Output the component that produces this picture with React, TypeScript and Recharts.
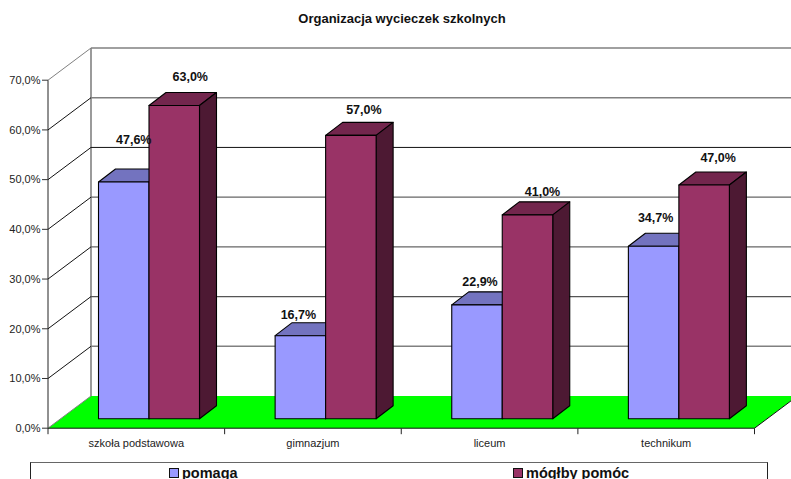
import { BarChart, Bar, XAxis, YAxis, CartesianGrid, LabelList, Legend } from "recharts";

const categories = ["szkoła podstawowa", "gimnazjum", "liceum", "technikum"];
const pomaga = [47.6, 16.7, 22.9, 34.7];
const mogłbyPomoc = [63.0, 57.0, 41.0, 47.0];
const yTicks = [0, 10, 20, 30, 40, 50, 60, 70];
const Y_MAX = 70;

const data = categories.map((name, i) => ({
  name,
  pomaga: pomaga[i],
  pomoc: mogłbyPomoc[i],
}));

// layout: the plot area is the plane of the bar fronts
const FONT = "'Liberation Sans', Arial, sans-serif";
const PLOT_LEFT = 60.5;
const PLOT_TOP = 70.7;
const PLOT_BOTTOM = 418.7;
const PLOT_RIGHT = 767;
const PLOT_H = PLOT_BOTTOM - PLOT_TOP;
const PLOT_W = PLOT_RIGHT - PLOT_LEFT;
const BAND = PLOT_W / categories.length;

// front edge of the floor, relative to the bar plane
const FRONT_DX = -12.5;
const FRONT_DY = 9.5;
// back wall, relative to the bar plane
const BACK_DX = 30.5;
const BACK_DY = -22.7;
// bar depth
const DEPTH_X = 17;
const DEPTH_Y = 13;

// hand placed labels, as in the original
const nudgePomaga = [
  [10, -38],
  [-2, -17],
  [3, -19],
  [2, -24],
];
const nudgePomoc = [
  [16, -25],
  [13, -21],
  [15, -19],
  [14, -23],
];

const gridStyle: Record<number, { stroke: string; width: number }> = {
  70: { stroke: "#808080", width: 1.6 },
  60: { stroke: "#808080", width: 1.6 },
  50: { stroke: "#111", width: 1 },
  40: { stroke: "#666", width: 1.2 },
  30: { stroke: "#666", width: 1.2 },
  20: { stroke: "#555", width: 1.2 },
  10: { stroke: "#808080", width: 1.6 },
};

// the walls and the floor hang off the grid lines so they stay behind the bars
function WallLine(props: any) {
  const y = props.y1;
  const v = Math.round(((PLOT_BOTTOM - y) / PLOT_H) * Y_MAX);
  const fx = PLOT_LEFT + FRONT_DX;
  const fy = y + FRONT_DY;
  const bx = PLOT_LEFT + BACK_DX;
  const by = y + BACK_DY;
  const g = gridStyle[v];
  return (
    <g key={props.key}>
      {v === 0 && (
        <>
          <polygon
            points={`${fx},${fy} ${bx},${by} ${bx + PLOT_W},${by} ${fx + PLOT_W},${fy}`}
            fill="#00ff00"
          />
          <line x1={bx} y1={by} x2={bx} y2={by - PLOT_H} stroke="#909090" strokeWidth={1.8} />
          <line x1={fx} y1={fy} x2={fx} y2={fy - PLOT_H} stroke="#222" strokeWidth={1} />
          <line x1={fx + PLOT_W} y1={fy} x2={fx + PLOT_W + 43} y2={by} stroke="#111" strokeWidth={1} />
        </>
      )}
      {g && <line x1={bx} y1={by} x2={791} y2={by} stroke={g.stroke} strokeWidth={g.width} />}
      <line
        x1={fx}
        y1={fy}
        x2={bx}
        y2={by}
        stroke={v === 70 || v === 0 ? "#808080" : "#111"}
        strokeWidth={1}
      />
    </g>
  );
}

function YTick({ y, payload }: any) {
  const v = payload.value;
  const fx = PLOT_LEFT + FRONT_DX;
  const fy = y + FRONT_DY;
  return (
    <g>
      <line x1={fx - 6} y1={fy} x2={fx} y2={fy} stroke="#333" strokeWidth={1} />
      <text x={fx - 7.5} y={fy + 3.8} textAnchor="end" fontSize={11} fontFamily={FONT} fill="#222">
        {v.toFixed(1).replace(".", ",")}%
      </text>
    </g>
  );
}

function XTick({ x, y, payload, index }: any) {
  const cx = x + FRONT_DX;
  const fy = y + FRONT_DY;
  const left = cx - BAND / 2;
  const right = cx + BAND / 2;
  return (
    <g>
      <line x1={left} y1={fy} x2={right} y2={fy} stroke="#111" strokeWidth={1} />
      <line x1={left} y1={fy} x2={left} y2={fy + 6} stroke="#222" strokeWidth={1} />
      {index === categories.length - 1 && (
        <line x1={right} y1={fy} x2={right} y2={fy + 6} stroke="#222" strokeWidth={1} />
      )}
      <text x={cx} y={fy + 19} textAnchor="middle" fontSize={11} fontFamily={FONT} fill="#222">
        {payload.value}
      </text>
    </g>
  );
}

const box3d = (top: string, side: string) => (props: any) => {
  const { x, y, width, height, fill } = props;
  const r = x + width;
  const b = y + height;
  return (
    <g stroke="#000" strokeWidth={1.1} strokeLinejoin="round">
      <polygon
        points={`${x},${y} ${x + DEPTH_X},${y - DEPTH_Y} ${r + DEPTH_X},${y - DEPTH_Y} ${r},${y}`}
        fill={top}
      />
      <polygon
        points={`${r},${y} ${r + DEPTH_X},${y - DEPTH_Y} ${r + DEPTH_X},${b - DEPTH_Y} ${r},${b}`}
        fill={side}
      />
      <rect x={x} y={y} width={width} height={height} fill={fill} />
    </g>
  );
};

const makeLabel = (nudge: number[][]) => (props: any) => {
  const { x, y, width, value, index } = props;
  const [dx, dy] = nudge[index];
  return (
    <text
      x={x + width / 2 + dx}
      y={y + dy}
      textAnchor="middle"
      fontSize={12.5}
      fontWeight="bold"
      fontFamily={FONT}
      fill="#111"
    >
      {value.toFixed(1).replace(".", ",")}%
    </text>
  );
};

function LegendBox({ payload }: any) {
  const lefts = [138, 482];
  return (
    <div
      style={{
        position: "relative",
        width: 736,
        height: 40,
        border: "1px solid #222",
        borderTopColor: "#666",
        background: "#fff",
        fontFamily: FONT,
        fontWeight: "bold",
        fontSize: 14.5,
        color: "#111",
      }}
    >
      {(payload || []).map((p: any, i: number) => (
        <div key={p.value} style={{ position: "absolute", left: lefts[i], top: 2, display: "flex", alignItems: "center" }}>
          <span
            style={{
              width: 8,
              height: 8,
              border: "1px solid #111",
              background: p.color,
              marginRight: 3,
            }}
          />
          {p.value}
        </div>
      ))}
    </div>
  );
}

export default function App() {
  return (
    <div style={{ position: "absolute", left: 0, top: 0, width: 791, height: 479, overflow: "hidden", background: "#fff" }}>
      <div
        style={{
          position: "absolute",
          top: 11,
          left: 0,
          width: 804,
          textAlign: "center",
          fontFamily: FONT,
          fontSize: 13,
          fontWeight: "bold",
          color: "#111",
        }}
      >
        Organizacja wycieczek szkolnych
      </div>
      <BarChart
        width={791}
        height={479}
        data={data}
        barSize={50.5}
        barGap={0}
        margin={{ top: PLOT_TOP, left: 0, right: 791 - PLOT_RIGHT, bottom: 479 - PLOT_BOTTOM - 30 }}
      >
        <CartesianGrid vertical={false} horizontal={WallLine} horizontalValues={yTicks} />
        <YAxis
          width={PLOT_LEFT}
          domain={[0, Y_MAX]}
          ticks={yTicks}
          axisLine={false}
          tickLine={false}
          tickSize={0}
          tickMargin={0}
          interval={0}
          tick={YTick}
        />
        <XAxis
          dataKey="name"
          height={30}
          axisLine={false}
          tickLine={false}
          tickSize={0}
          tickMargin={0}
          interval={0}
          tick={XTick}
        />
        <Bar dataKey="pomaga" name="pomaga" fill="#9999ff" isAnimationActive={false} shape={box3d("#7373bf", "#4d4d80")}>
          <LabelList dataKey="pomaga" content={makeLabel(nudgePomaga)} />
        </Bar>
        <Bar dataKey="pomoc" name="mógłby pomóc" fill="#993366" isAnimationActive={false} shape={box3d("#73264d", "#4d1933")}>
          <LabelList dataKey="pomoc" content={makeLabel(nudgePomoc)} />
        </Bar>
        <Legend
          verticalAlign="middle"
          align="center"
          itemSorter="dataKey"
          content={LegendBox}
          wrapperStyle={{ position: "absolute", top: 462, left: 30, width: 738, height: 40 }}
        />
      </BarChart>
    </div>
  );
}
